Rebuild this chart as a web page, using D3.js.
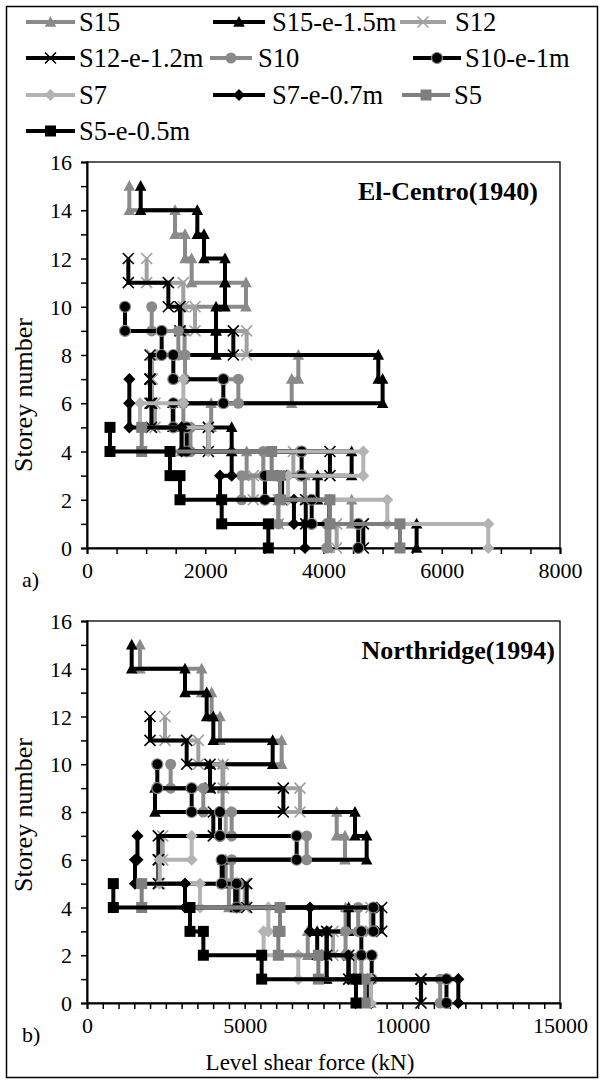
<!DOCTYPE html>
<html><head><meta charset="utf-8">
<script src="https://cdn.jsdelivr.net/npm/d3@7"></script>
<style>body{margin:0;background:#fff}svg{display:block}text{font-family:"Liberation Serif","Times New Roman",serif}</style>
</head><body><svg id="c" width="603" height="1083"></svg>
<script>
// ---------- DATA (level shear force in kN, storey 1 .. n) ----------
const seriesNames = ["S15","S15-e-1.5m","S12","S12-e-1.2m","S10","S10-e-1m","S7","S7-e-0.7m","S5","S5-e-0.5m"];
const seriesSymbols = ["triangle","triangle","x","x","circle","circle","diamond","diamond","square","square"];
const seriesColors = ["#8a8a8a","#000000","#a0a0a0","#000000","#8a8a8a","#000000","#b3b3b3","#000000","#7f7f7f","#000000"];

// El-Centro (1940)
const ec_S15   = [4100,4476,3687,2700,1600,2100,3462,3574,1650,1600,2689,1770,1658,1489,716];
const ec_S15e  = [5575,4100,3900,4476,2447,1450,5000,4927,2182,2182,2334,2334,1979,1866,908];
const ec_S12   = [4222,3236,2813,3490,1686,1150,1100,1100,2700,1827,1629,1009];
const ec_S12e  = [4673,3700,3300,4109,2052,1090,1066,1066,2475,1573,1376,699];
const ec_S10   = [4053,3236,2616,2982,1750,1630,2560,1658,1545,1094];
const ec_S10e  = [4588,3800,3010,3630,1686,1460,2306,1460,1263,643];
const ec_S7    = [6787,5079,3400,4673,2052,897,1630];
const ec_S7e   = [3687,3500,2250,2447,1600,716,716];
const ec_S5    = [5293,4109,3264,3123,925];
const ec_S5e   = [3067,2278,1573,1404,389];

// Northridge (1994)
const nr_S15   = [9000,7600,7000,8200,4500,4400,8182,7918,4300,4300,6173,4218,3953,3636,1681];
const nr_S15e  = [8900,7600,7300,8300,4700,4300,8869,8499,2156,3901,5888,4006,3795,3108,1417];
const nr_S12   = [10600,8500,7800,9000,5000,2300,2400,4400,6755,4324,3530,2473];
const nr_S12e  = [10590,8300,7600,9345,5064,2262,2262,4006,6226,3901,3161,1998];
const nr_S10   = [11200,8700,8200,8600,4800,4588,6966,4588,3689,2653];
const nr_S10e  = [11400,9028,8700,9081,4746,4271,6649,4218,3319,2230];
const nr_S7    = [9000,6700,5600,5751,3584,2300,3319];
const nr_S7e   = [11776,8288,7600,7072,3108,1522,1600];
const nr_S5    = [8820,7337,6068,6121,1734];
const nr_S5e   = [8531,5539,3690,3266,835];

const yTicks = [0,2,4,6,8,10,12,14,16];
const ecXTicks = [0,2000,4000,6000,8000];
const nrXTicks = [0,5000,10000,15000];

const ecData = [ec_S15,ec_S15e,ec_S12,ec_S12e,ec_S10,ec_S10e,ec_S7,ec_S7e,ec_S5,ec_S5e];
const nrData = [nr_S15,nr_S15e,nr_S12,nr_S12e,nr_S10,nr_S10e,nr_S7,nr_S7e,nr_S5,nr_S5e];

// ---------- DRAWING ----------
const svg = d3.select("#c");
svg.append("rect").attr("x",6.5).attr("y",6.5).attr("width",591).attr("height",1071)
  .attr("fill","#fff").attr("stroke","#000").attr("stroke-width",1.5);

function symbolPath(type, s){
  const h=s/2;
  switch(type){
    case "triangle": return `M0,${-h*1.1}L${h*1.05},${h*0.85}L${-h*1.05},${h*0.85}Z`;
    case "square": return `M${-h},${-h}H${h}V${h}H${-h}Z`;
    case "diamond": return `M0,${-h*1.1}L${h*1.1},0L0,${h*1.1}L${-h*1.1},0Z`;
    case "x": return `M${-h},${-h}L${h},${h}M${h},${-h}L${-h},${h}`;
    case "circle": return d3.symbol(d3.symbolCircle, Math.PI*h*h)();
  }
}
function drawMarker(g, type, color, i, x, y){
  const s = 11;
  const p = g.append("path").attr("d", symbolPath(type,s)).attr("transform",`translate(${x},${y})`);
  if(type==="x"){
    p.attr("fill","none").attr("stroke",color).attr("stroke-width",1.6);
  } else if(i===5){
    p.attr("fill","#000").attr("stroke","#8a8a8a").attr("stroke-width",1.2);
  } else {
    p.attr("fill",color).attr("stroke","none");
  }
}

function stepPoints(vals){
  const pts=[];
  for(let k=vals.length;k>=1;k--){
    pts.push([vals[k-1],k]);
    pts.push([vals[k-1],k-1]);
  }
  return pts;
}

function panel(cfg){
  const x = d3.scaleLinear().domain([0,cfg.xmax]).range([cfg.left,cfg.right]);
  const y = d3.scaleLinear().domain([0,16]).range([cfg.bottom,cfg.top]);
  const g = svg.append("g");
  g.append("rect").attr("x",cfg.left).attr("y",cfg.top).attr("width",cfg.right-cfg.left)
    .attr("height",cfg.bottom-cfg.top).attr("fill","none").attr("stroke","#000").attr("stroke-width",1.3);
  const ya = g.append("g").attr("transform",`translate(${cfg.left},0)`)
    .call(d3.axisLeft(y).tickValues(d3.range(0,17,1)).tickSize(6).tickFormat(d=>yTicks.includes(d)?d:""));
  ya.select(".domain").attr("stroke-width",2);
  ya.selectAll("line").attr("stroke-width",1.5);
  ya.selectAll("text").attr("font-size",22).attr("x",-15).attr("dy","0.35em").attr("fill","#000");
  const minor = d3.range(0,cfg.xmax+1,500);
  const xa = g.append("g").attr("transform",`translate(0,${cfg.bottom})`)
    .call(d3.axisBottom(x).tickValues(minor).tickSize(6).tickFormat(d=>cfg.xTicks.includes(d)?d:""));
  xa.select(".domain").attr("stroke-width",2);
  xa.selectAll("line").attr("stroke-width",1.5);
  xa.selectAll("text").attr("font-size",22).attr("y",14).attr("dy","0.71em").attr("fill","#000");
  g.append("text").attr("transform",`translate(32,${cfg.ytitleY}) rotate(-90)`)
    .attr("text-anchor","middle").attr("font-size",26).text("Storey number");
  g.append("text").attr("x",cfg.titleRight).attr("y",cfg.top+38).attr("text-anchor","end")
    .attr("font-size",26).attr("font-weight","bold").text(cfg.title);
  g.append("text").attr("x",22).attr("y",cfg.bottom+39).attr("font-size",22).text(cfg.letter);
  const line = d3.line().x(d=>x(d[0])).y(d=>y(d[1]));
  cfg.data.forEach((vals,i)=>{
    const pts = stepPoints(vals);
    g.append("path").attr("d",line(pts)).attr("fill","none").attr("stroke",seriesColors[i])
      .attr("stroke-width",4).attr("stroke-linejoin","miter");
    const mg = g.append("g");
    pts.forEach(p=>drawMarker(mg,seriesSymbols[i],seriesColors[i],i,x(p[0]),y(p[1])));
  });
}

panel({left:87,right:560,top:162,bottom:548,xmax:8000,xTicks:ecXTicks,title:"El-Centro(1940)",titleRight:538,ytitleY:395,letter:"a)",data:ecData});
panel({left:87,right:560,top:621,bottom:1003,xmax:15000,xTicks:nrXTicks,title:"Northridge(1994)",titleRight:555,ytitleY:815,letter:"b)",data:nrData});

svg.append("text").attr("x",310).attr("y",1070).attr("text-anchor","middle").attr("font-size",23)
  .text("Level shear force (kN)");

// legend: [line start, line end, text start, y]
const legendPos = [[26,75,79,22],[213,265,272,22],[400,446,455,22],
                   [26,75,79,58],[210,252,258,58],[413,461,465,58],
                   [26,75,79,95],[213,265,272,95],[402,450,454,95],
                   [26,75,79,131]];
const lg = svg.append("g");
seriesNames.forEach((n,i)=>{
  const [a,b,t,ly] = legendPos[i];
  lg.append("line").attr("x1",a).attr("x2",b).attr("y1",ly).attr("y2",ly)
    .attr("stroke",seriesColors[i]).attr("stroke-width",4);
  drawMarker(lg,seriesSymbols[i],seriesColors[i],i,(a+b)/2,ly);
  lg.append("text").attr("x",t).attr("y",ly).attr("dy","0.35em").attr("font-size",26.5).text(n);
});
</script></body></html>
